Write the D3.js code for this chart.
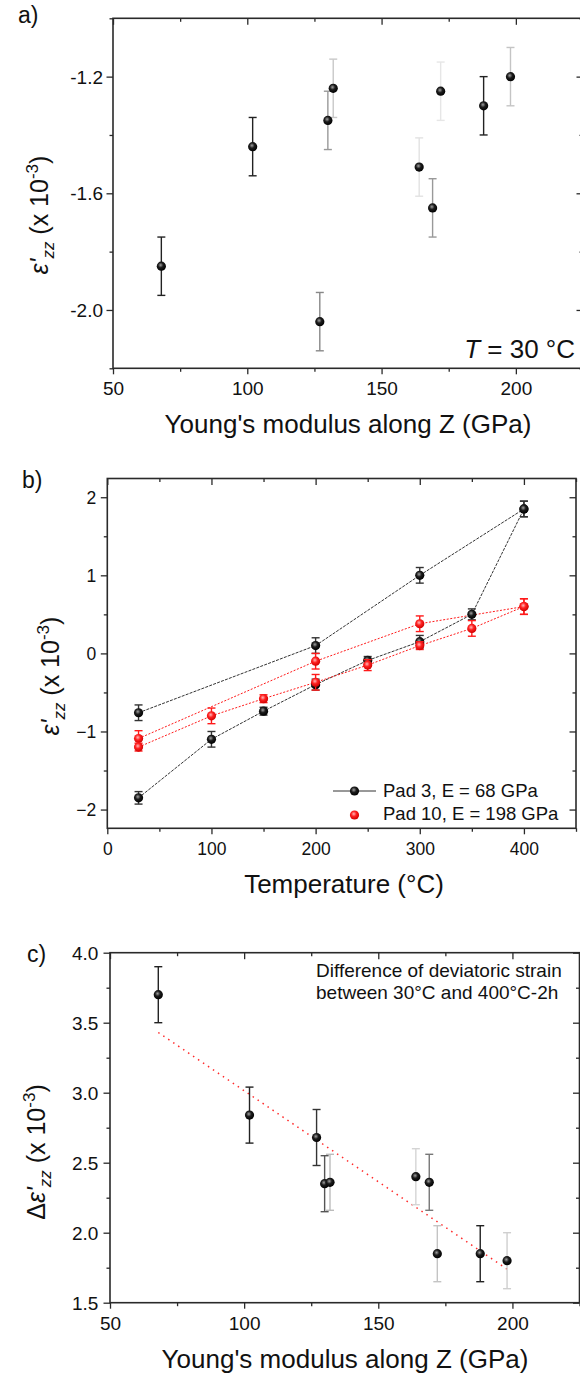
<!DOCTYPE html>
<html>
<head>
<meta charset="utf-8">
<script src="https://cdnjs.cloudflare.com/ajax/libs/d3/7.8.5/d3.min.js"></script>
<style>
  body { margin: 0; background: #fff; }
  #wrapper svg { display: block; font-family: "Liberation Sans", Arial, sans-serif; }
</style>
</head>
<body>
<div id="wrapper"></div>
<script>
//1) Data

// a) strain at 30 °C against Young's modulus of each pad
const padModulus = [68, 102, 127, 130, 132, 164, 169, 172, 188, 198]
const strain30 = [-1.85, -1.44, -2.04, -1.35, -1.24, -1.51, -1.65, -1.25, -1.30, -1.20]
const strain30Err = [0.1, 0.1, 0.1, 0.1, 0.1, 0.1, 0.1, 0.1, 0.1, 0.1]
const errInkA = ["#222", "#222", "#888", "#999", "#c8c8c8", "#e2e2e2", "#999", "#e6e6e6", "#222", "#c4c4c4"]

// b) strain against temperature, two pads, each measured on two runs
const tempsShort = [30, 200, 300, 400]
const tempsFull = [30, 100, 150, 200, 250, 300, 350, 400]
const pad3StrainShort = [-0.76, 0.10, 1.00, 1.85]
const pad3ErrShort = [0.1, 0.1, 0.1, 0.1]
const pad3StrainFull = [-1.85, -1.10, -0.74, -0.40, -0.09, 0.15, 0.50, 1.85]
const pad3ErrFull = [0.08, 0.1, 0.05, 0.07, 0.05, 0.08, 0.07, 0.1]
const pad10StrainShort = [-1.09, -0.10, 0.38, 0.60]
const pad10ErrShort = [0.1, 0.1, 0.1, 0.1]
const pad10StrainFull = [-1.20, -0.80, -0.58, -0.37, -0.15, 0.10, 0.32, 0.60]
const pad10ErrFull = [0.05, 0.1, 0.05, 0.1, 0.07, 0.05, 0.1, 0.1]
const legendLabels = ["Pad 3, E = 68 GPa", "Pad 10, E = 198 GPa"]

// c) strain difference 30 °C -> 400 °C-2h against modulus
const deltaStrain = [3.70, 2.84, 2.68, 2.35, 2.36, 2.40, 2.36, 1.85, 1.85, 1.80]
const deltaErr = [0.2, 0.2, 0.2, 0.2, 0.2, 0.2, 0.2, 0.2, 0.2, 0.2]
const errInkC = ["#222", "#222", "#333", "#555", "#bbb", "#d4d4d4", "#777", "#c4c4c4", "#222", "#cfcfcf"]
const fitModulus = [68, 198]
const fitDelta = [3.43, 1.74]

// tick values
const modulusTicks = [50, 100, 150, 200]
const modulusMinor = [75, 125, 175, 225]
const strainATicks = [-1.2, -1.6, -2.0]
const strainAMinor = [-1.0, -1.4, -1.8, -2.2]
const tempTicks = [0, 100, 200, 300, 400]
const tempMinor = [50, 150, 250, 350, 450]
const strainBTicks = [-2, -1, 0, 1, 2]
const strainBMinor = [-1.5, -0.5, 0.5, 1.5]
const deltaTicks = [1.5, 2.0, 2.5, 3.0, 3.5, 4.0]
const deltaMinor = [1.75, 2.25, 2.75, 3.25, 3.75]

//2) Canvas

const ink = "#2a2a2a"
const svg = d3.select("#wrapper")
              .append("svg")
              .attr("width", 580)
              .attr("height", 1375)

const defs = svg.append("defs")

function ballGradient(id, hi, mid, lo) {
    const g = defs.append("radialGradient").attr("id", id)
                  .attr("cx", "42%").attr("cy", "38%").attr("r", "62%")
    g.append("stop").attr("offset", "0%").attr("stop-color", hi)
    g.append("stop").attr("offset", "45%").attr("stop-color", mid)
    g.append("stop").attr("offset", "100%").attr("stop-color", lo)
}
ballGradient("ballBlack", "#a0a0a0", "#1c1c1c", "#000")
ballGradient("ballRed", "#ffb8b8", "#ff2222", "#d00000")

//3) helpers

function drawPanel(box, xScale, yScale, t) {
    const bounds = svg.append("g")
                      .attr("transform", `translate(${box.left},${box.top})`)
    const w = box.width, h = box.height

    // minor ticks: out on bottom/left, in on top/right
    bounds.append("g").attr("transform", `translate(0,${h})`)
          .call(d3.axisBottom(xScale).tickValues(t.xMinor).tickSize(3.5).tickFormat(""))
    bounds.append("g")
          .call(d3.axisTop(xScale).tickValues(t.xMinor).tickSize(-3.5).tickFormat(""))
    bounds.append("g")
          .call(d3.axisLeft(yScale).tickValues(t.yMinor).tickSize(3.5).tickFormat(""))
    bounds.append("g").attr("transform", `translate(${w},0)`)
          .call(d3.axisRight(yScale).tickValues(t.yMinor).tickSize(-3.5).tickFormat(""))

    // major ticks
    const xAxis = bounds.append("g").attr("transform", `translate(0,${h})`)
          .call(d3.axisBottom(xScale).tickValues(t.x).tickSize(6).tickFormat(t.xFormat))
    bounds.append("g")
          .call(d3.axisTop(xScale).tickValues(t.x).tickSize(-6.5).tickFormat(""))
    const yAxis = bounds.append("g")
          .call(d3.axisLeft(yScale).tickValues(t.y).tickSize(6.5).tickFormat(t.yFormat))
    bounds.append("g").attr("transform", `translate(${w},0)`)
          .call(d3.axisRight(yScale).tickValues(t.y).tickSize(-6.5).tickFormat(""))

    xAxis.selectAll("text")
         .attr("dy", null)
         .attr("y", t.xLabelY)
         .style("font-size", t.xFont + "px")
         .style("fill", "#111")
    yAxis.selectAll("text")
         .attr("x", t.yLabelX)
         .attr("dy", "0.35em")
         .style("font-size", t.yFont + "px")
         .style("fill", "#111")

    bounds.selectAll(".domain").remove()
    bounds.selectAll(".tick line").attr("stroke", ink).attr("stroke-width", 1.3)

    bounds.append("rect")
          .attr("width", w)
          .attr("height", h)
          .attr("fill", "none")
          .attr("stroke", ink)
          .attr("stroke-width", 1.6)

    return bounds
}

function drawErrorBars(g, xs, ys, errs, inks, xScale, yScale) {
    const cap = 4
    const rows = xs.map((x, i) => ({ x, y: ys[i], e: errs[i], c: inks[i] }))
    const bars = g.append("g").selectAll("g").data(rows).join("g")
                  .attr("stroke", d => d.c)
                  .attr("stroke-width", 1.4)
    bars.append("line")
        .attr("x1", d => xScale(d.x)).attr("x2", d => xScale(d.x))
        .attr("y1", d => yScale(d.y - d.e)).attr("y2", d => yScale(d.y + d.e))
    bars.append("line")
        .attr("x1", d => xScale(d.x) - cap).attr("x2", d => xScale(d.x) + cap)
        .attr("y1", d => yScale(d.y + d.e)).attr("y2", d => yScale(d.y + d.e))
    bars.append("line")
        .attr("x1", d => xScale(d.x) - cap).attr("x2", d => xScale(d.x) + cap)
        .attr("y1", d => yScale(d.y - d.e)).attr("y2", d => yScale(d.y - d.e))
}

function drawBalls(g, xs, ys, fill, xScale, yScale) {
    g.append("g").selectAll("circle")
     .data(xs.map((x, i) => [x, ys[i]]))
     .join("circle")
     .attr("cx", d => xScale(d[0]))
     .attr("cy", d => yScale(d[1]))
     .attr("r", 4.6)
     .attr("fill", fill)
}

function addText(x, y, str, size, anchor) {
    return svg.append("text")
              .attr("x", x).attr("y", y)
              .attr("text-anchor", anchor || "start")
              .style("font-size", size + "px")
              .style("fill", "#111")
              .text(str)
}

function strainTitle(x, y, withDelta) {
    const t = svg.append("text")
                 .attr("transform", `translate(${x},${y}) rotate(-90)`)
                 .attr("text-anchor", "middle")
                 .style("font-size", "25px")
                 .style("fill", "#111")
    if (withDelta) t.append("tspan").text("Δ")
    t.append("tspan").style("font-style", "italic").text("ε'")
    t.append("tspan").attr("dy", 6).style("font-size", "17px").style("font-style", "italic").text("zz")
    t.append("tspan").attr("dy", -6).text(" (x 10")
    t.append("tspan").attr("dy", -10).style("font-size", "17px").text("-3")
    t.append("tspan").attr("dy", 10).text(")")
}

const oneDecimal = d => d.toFixed(1)

//4) Panel a

const boxA = { left: 113, top: 18.3, width: 470, height: 350 }
const xScaleA = d3.scaleLinear().domain([50, 225]).range([0, boxA.width])
const yScaleA = d3.scaleLinear().domain([-2.2, -1.0]).range([boxA.height, 0])

const boundsA = drawPanel(boxA, xScaleA, yScaleA, {
    x: modulusTicks, xMinor: modulusMinor, xFormat: d3.format("d"),
    y: strainATicks, yMinor: strainAMinor, yFormat: oneDecimal,
    xLabelY: 26.7, yLabelX: -10, xFont: 19, yFont: 19
})
drawErrorBars(boundsA, padModulus, strain30, strain30Err, errInkA, xScaleA, yScaleA)
drawBalls(boundsA, padModulus, strain30, "url(#ballBlack)", xScaleA, yScaleA)

addText(18, 23, "a)", 23)
strainTitle(48, 215, false)
addText(348, 433, "Young's modulus along Z (GPa)", 26, "middle")
const tempNote = addText(575, 358, "", 26, "end")
tempNote.append("tspan").style("font-style", "italic").text("T")
tempNote.append("tspan").text(" = 30 °C")

//5) Panel b

const boxB = { left: 107.3, top: 478.5, width: 468.7, height: 349.8 }
const xScaleB = d3.scaleLinear().domain([0, 450]).range([0, boxB.width])
const yScaleB = d3.scaleLinear().domain([-2.24, 2.24]).range([boxB.height, 0])

const boundsB = drawPanel(boxB, xScaleB, yScaleB, {
    x: tempTicks, xMinor: tempMinor, xFormat: d3.format("d"),
    y: strainBTicks, yMinor: strainBMinor, yFormat: d3.format("d"),
    xLabelY: 26.7, yLabelX: -11, xFont: 17.5, yFont: 17.5
})

const lineB = (xs, ys) => d3.line()
                            .x((d, i) => xScaleB(xs[i]))
                            .y(d => yScaleB(d))(ys)

const seriesB = [
    { xs: tempsShort, ys: pad3StrainShort, err: pad3ErrShort, color: "#333", ball: "url(#ballBlack)", dash: "3,1.2" },
    { xs: tempsFull, ys: pad3StrainFull, err: pad3ErrFull, color: "#333", ball: "url(#ballBlack)", dash: "3,1.2" },
    { xs: tempsShort, ys: pad10StrainShort, err: pad10ErrShort, color: "#ff1a1a", ball: "url(#ballRed)", dash: "2,1.6" },
    { xs: tempsFull, ys: pad10StrainFull, err: pad10ErrFull, color: "#ff1a1a", ball: "url(#ballRed)", dash: "2,1.6" }
]

seriesB.forEach(s => {
    boundsB.append("path")
           .attr("d", lineB(s.xs, s.ys))
           .attr("fill", "none")
           .attr("stroke", s.color)
           .attr("stroke-width", 1)
           .attr("stroke-dasharray", s.dash)
})
seriesB.forEach(s => {
    drawErrorBars(boundsB, s.xs, s.ys, s.err, s.xs.map(() => s.color), xScaleB, yScaleB)
    drawBalls(boundsB, s.xs, s.ys, s.ball, xScaleB, yScaleB)
})

// legend
const legend = svg.append("g")
legend.append("line")
      .attr("x1", 333).attr("x2", 376)
      .attr("y1", 791).attr("y2", 791)
      .attr("stroke", "#333").attr("stroke-width", 1)
legend.append("circle").attr("cx", 354.5).attr("cy", 791).attr("r", 4.6).attr("fill", "url(#ballBlack)")
legend.append("circle").attr("cx", 354.5).attr("cy", 815).attr("r", 4.6).attr("fill", "url(#ballRed)")
addText(383, 797, legendLabels[0], 18.5)
addText(383, 820, legendLabels[1], 18.5)

addText(22, 488, "b)", 23)
strainTitle(59, 676, false)
addText(344, 893, "Temperature (°C)", 26, "middle")

//6) Panel c

const boxC = { left: 110, top: 952.7, width: 469.5, height: 350 }
const xScaleC = d3.scaleLinear().domain([50, 225]).range([0, boxC.width])
const yScaleC = d3.scaleLinear().domain([1.5, 4.0]).range([boxC.height, 0])

const boundsC = drawPanel(boxC, xScaleC, yScaleC, {
    x: modulusTicks, xMinor: modulusMinor, xFormat: d3.format("d"),
    y: deltaTicks, yMinor: deltaMinor, yFormat: oneDecimal,
    xLabelY: 27.3, yLabelX: -11.7, xFont: 19, yFont: 19
})

// red dotted linear fit
boundsC.append("path")
       .attr("d", d3.line().x((d, i) => xScaleC(fitModulus[i])).y(d => yScaleC(d))(fitDelta))
       .attr("fill", "none")
       .attr("stroke", "#ff2a2a")
       .attr("stroke-width", 1.5)
       .attr("stroke-dasharray", "1.5,4.5")

drawErrorBars(boundsC, padModulus, deltaStrain, deltaErr, errInkC, xScaleC, yScaleC)
drawBalls(boundsC, padModulus, deltaStrain, "url(#ballBlack)", xScaleC, yScaleC)

addText(316, 977, "Difference of deviatoric strain", 19)
addText(316, 998.5, "between 30°C and 400°C-2h", 19)

addText(27, 962, "c)", 23)
strainTitle(45, 1152, true)
addText(345, 1368, "Young's modulus along Z (GPa)", 26, "middle")
</script>
</body>
</html>
